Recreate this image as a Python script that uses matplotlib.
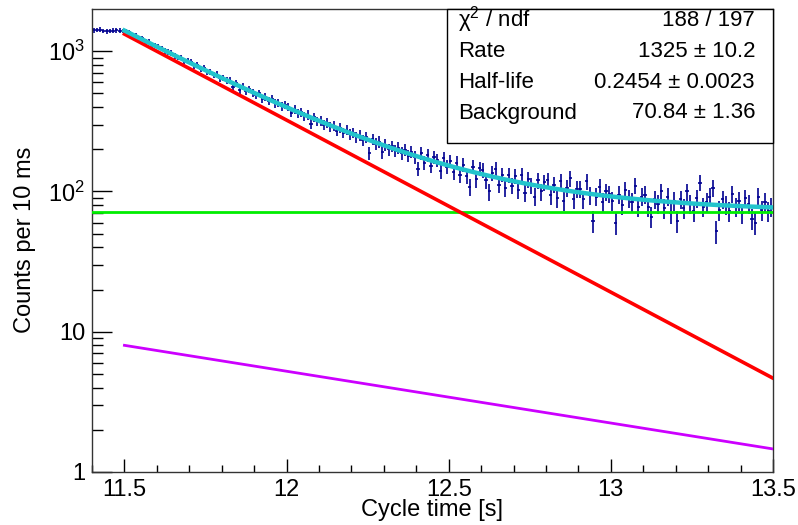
import numpy as np
import matplotlib
matplotlib.use("Agg")
import matplotlib.pyplot as plt
from matplotlib.patches import Rectangle
from matplotlib.ticker import FixedLocator, MultipleLocator, NullFormatter

plt.rcParams["font.family"] = ["Liberation Sans", "DejaVu Sans"]
plt.rcParams["mathtext.fontset"] = "custom"
plt.rcParams["mathtext.rm"] = "Liberation Sans"
plt.rcParams["mathtext.it"] = "Liberation Sans:italic"

# histogram: 10 ms bins from 11.40 s to 13.50 s
bin_lo = 11.40
bin_width = 0.01
counts = [
    1410, 1415, 1425, 1390, 1385, 1395, 1405, 1410, 1400, 1395,
    1395, 1362, 1298, 1290, 1232, 1240, 1168, 1175, 1105, 1098,
    1075, 1050, 1002, 990, 975, 925, 905, 902, 850, 860,
    835, 790, 795, 748, 760, 715, 712, 680, 690, 640,
    645, 615, 622, 560, 590, 530, 560, 520, 535, 505,
    485, 500, 460, 470, 445, 458, 425, 430, 405, 415,
    400, 365, 385, 360, 368, 345, 352, 305, 338, 316,
    320, 298, 310, 288, 295, 270, 285, 262, 275, 255,
    262, 245, 250, 232, 244, 188, 236, 218, 226, 190,
    215, 200, 210, 195, 205, 188, 198, 180, 192, 176,
    145, 188, 160, 182, 152, 175, 168, 140, 172, 150,
    165, 138, 160, 130, 155, 128, 108, 150, 122, 146,
    142, 120, 100, 136, 145, 112, 132, 106, 130, 110,
    128, 102, 130, 98, 122, 110, 92, 120, 100, 116,
    120, 94, 112, 90, 118, 86, 106, 124, 88, 104,
    104, 88, 118, 94, 62, 92, 108, 84, 100, 96,
    86, 60, 95, 80, 102, 90, 84, 110, 78, 92,
    95, 78, 66, 88, 82, 100, 76, 92, 70, 86,
    62, 88, 76, 100, 82, 72, 90, 115, 78, 84,
    92, 106, 52, 74, 88, 80, 72, 96, 78, 86,
    70, 90, 82, 64, 60, 92, 74, 84, 72, 78,
]
err_scale = 1.4  # bars look wider than plain sqrt(N)

# fit results (stat box) + daughter component
fit_start, fit_end = 11.5, 13.5
rate = 1325.0
half_life = 0.2454
background = 70.84
daughter_rate = 8.0
daughter_half_life = 0.815

stat_labels = ["χ$^{2}$ / ndf", "Rate", "Half-life", "Background"]
stat_values = ["188 / 197", "1325 ± 10.2", "0.2454 ± 0.0023", "70.84 ± 1.36"]

W, H = 798, 525
fig = plt.figure(figsize=(W / 100, H / 100), dpi=100)
L, R, T, B = 92, 773, 9, 472
ax = fig.add_axes([L / W, 1 - B / H, (R - L) / W, (B - T) / H])

counts = np.array(counts, dtype=float)
centers = bin_lo + bin_width * (np.arange(len(counts)) + 0.5)
ax.errorbar(centers, counts, yerr=err_scale * np.sqrt(counts), xerr=bin_width / 2,
            fmt="none", ecolor="#000090", elinewidth=1.2, zorder=2)

t = np.linspace(fit_start, fit_end, 400)
parent = rate * 2 ** (-(t - fit_start) / half_life)
daughter = daughter_rate * 2 ** (-(t - fit_start) / daughter_half_life)
ax.axhline(background, color="#00ee00", lw=2.0, zorder=3)
ax.plot(t, parent, color="#ff0000", lw=2.6, zorder=3)
ax.plot(t, daughter, color="#cc00ff", lw=2.0, zorder=3)
ax.plot(t, parent + daughter + background, color="#22c4cc", lw=3.2, zorder=4)

ax.set_yscale("log")
ax.set_xlim(11.4, 13.5)
ax.set_ylim(1, 2000)

ax.yaxis.set_major_locator(FixedLocator([1, 10, 100, 1000]))
ax.set_yticklabels(["1", "10", "$10^{2}$", "$10^{3}$"])
ax.yaxis.set_minor_locator(FixedLocator(
    [m * 10 ** e for e in range(0, 4) for m in range(2, 10) if m * 10 ** e < 2000]))
ax.yaxis.set_minor_formatter(NullFormatter())
ax.xaxis.set_major_locator(FixedLocator([11.5, 12, 12.5, 13, 13.5]))
ax.set_xticklabels(["11.5", "12", "12.5", "13", "13.5"])
ax.xaxis.set_minor_locator(MultipleLocator(0.1))

ax.tick_params(axis="both", which="both", direction="in", top=False, right=False,
               labelsize=17, colors="black", width=1.0)
ax.tick_params(axis="x", which="major", length=9.5, pad=5)
ax.tick_params(axis="x", which="minor", length=5)
ax.tick_params(axis="y", which="major", length=14.5, pad=5)
ax.tick_params(axis="y", which="minor", length=8)
for s in ax.spines.values():
    s.set_linewidth(1.0)
    s.set_color("#333333")

fig.text((L + R) / 2 / W, 1 - 510 / H, "Cycle time [s]", ha="center", va="center", fontsize=17)
fig.text(25 / W, 1 - 240 / H, "Counts per 10 ms", ha="center", va="center",
         rotation=90, fontsize=17)

# stat box
bx0, bx1, by0, by1 = 447, 773, 9, 143
fig.patches.append(Rectangle((bx0 / W, 1 - by1 / H), (bx1 - bx0) / W, (by1 - by0) / H,
                             transform=fig.transFigure, facecolor="white",
                             edgecolor="black", lw=1.0, zorder=10))
row_y = [20, 51, 82, 113]
for lab, val, yy in zip(stat_labels, stat_values, row_y):
    fig.text(458 / W, 1 - yy / H, lab, ha="left", va="center", fontsize=16, zorder=11)
    fig.text(755 / W, 1 - yy / H, val, ha="right", va="center", fontsize=16, zorder=11)

fig.savefig("out.png", dpi=100)
